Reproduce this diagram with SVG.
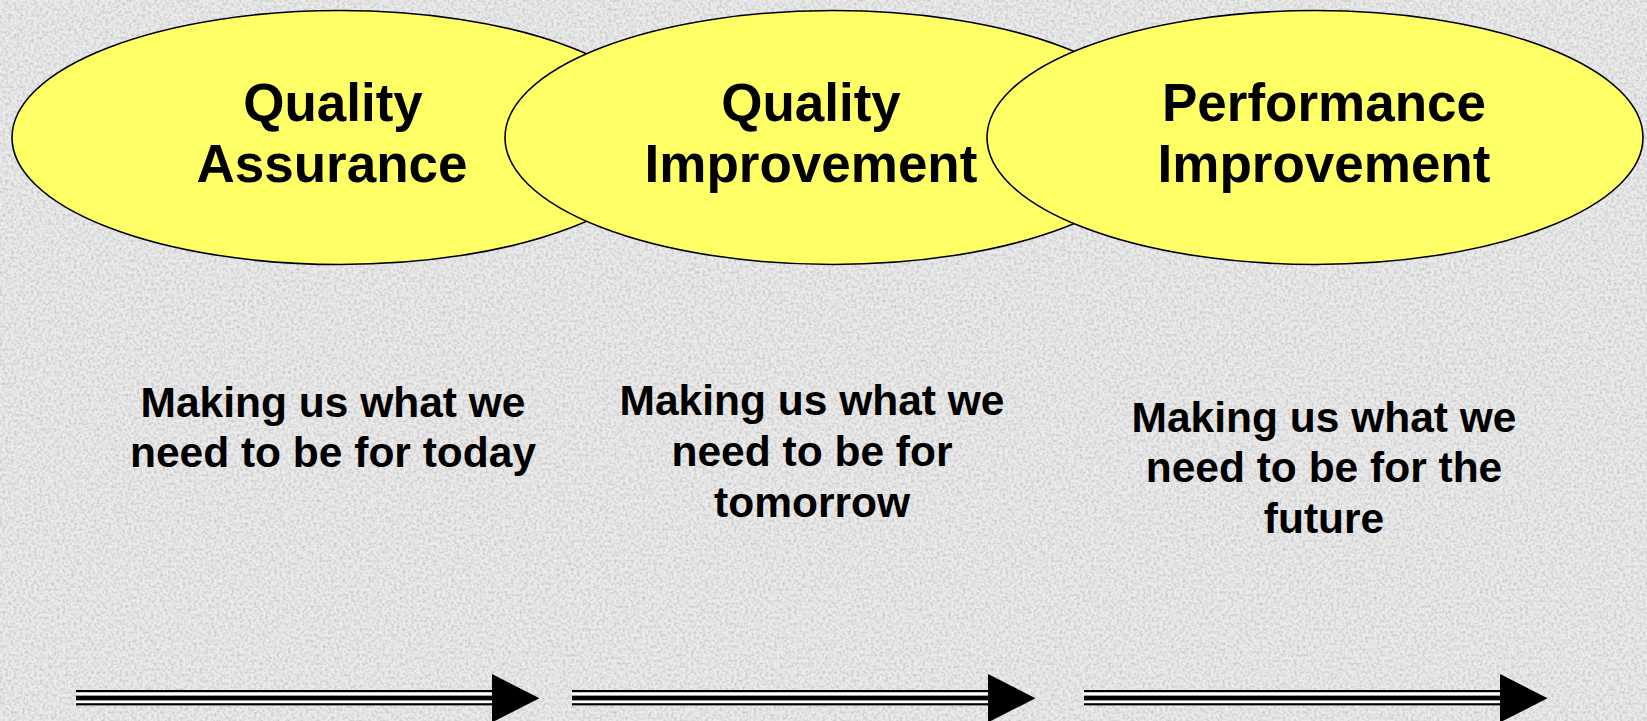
<svg xmlns="http://www.w3.org/2000/svg" xmlns:xlink="http://www.w3.org/1999/xlink" width="1647" height="721" viewBox="0 0 1647 721">
<style>
.ell{fill:#ffff66;stroke:#000;stroke-width:1.6}
.title{font-family:"Liberation Sans",Arial,sans-serif;font-weight:bold;font-size:53px;fill:#000;text-anchor:middle}
.desc{font-family:"Liberation Sans",Arial,sans-serif;font-weight:bold;font-size:42.5px;fill:#000;text-anchor:middle}
</style>
<defs>
<filter id="grain" x="0" y="0" width="100%" height="100%">
<feTurbulence type="fractalNoise" baseFrequency="0.35" numOctaves="2" seed="3" result="n"/>
<feColorMatrix in="n" type="matrix" values="0 0 0 0 0  0 0 0 0 0  0 0 0 0 0  0 0 0 -0.9 0.55"/>
</filter>
<g id="arrow">
<rect x="0" y="690" width="416" height="15.5" fill="#ffffff"/>
<rect x="0" y="690" width="416" height="2.2" fill="#000"/>
<rect x="0" y="695.6" width="416" height="4.8" fill="#000"/>
<rect x="0" y="703.2" width="416" height="2.2" fill="#000"/>
<polygon points="416,674 463.5,698.2 416,722.4" fill="#000"/>
</g>
</defs>
<rect width="1647" height="721" fill="#ebebeb"/>
<rect width="1647" height="721" filter="url(#grain)" opacity="0.35"/>
<g id="node-quality-assurance">
<ellipse class="ell" cx="340" cy="137.5" rx="328" ry="127"/>
<text class="title" x="333" y="121">Quality</text>
<text class="title" x="332" y="182">Assurance</text>
</g>
<g id="node-quality-improvement">
<ellipse class="ell" cx="833" cy="137.5" rx="328" ry="127"/>
<text class="title" x="811" y="121">Quality</text>
<text class="title" x="811" y="182">Improvement</text>
</g>
<g id="node-performance-improvement">
<ellipse class="ell" cx="1315" cy="137.5" rx="328" ry="127"/>
<text class="title" x="1324" y="121">Performance</text>
<text class="title" x="1324" y="182">Improvement</text>
</g>
<g id="desc-today">
<text class="desc" x="333" y="417">Making us what we</text>
<text class="desc" x="333" y="467">need to be for today</text>
</g>
<g id="desc-tomorrow">
<text class="desc" x="812" y="415">Making us what we</text>
<text class="desc" x="812" y="466">need to be for</text>
<text class="desc" x="812" y="517">tomorrow</text>
</g>
<g id="desc-future">
<text class="desc" x="1324" y="432">Making us what we</text>
<text class="desc" x="1324" y="482">need to be for the</text>
<text class="desc" x="1324" y="533">future</text>
</g>
<g id="connectors">
<use xlink:href="#arrow" x="76"/>
<use xlink:href="#arrow" x="572"/>
<use xlink:href="#arrow" x="1084"/>
</g>
</svg>
